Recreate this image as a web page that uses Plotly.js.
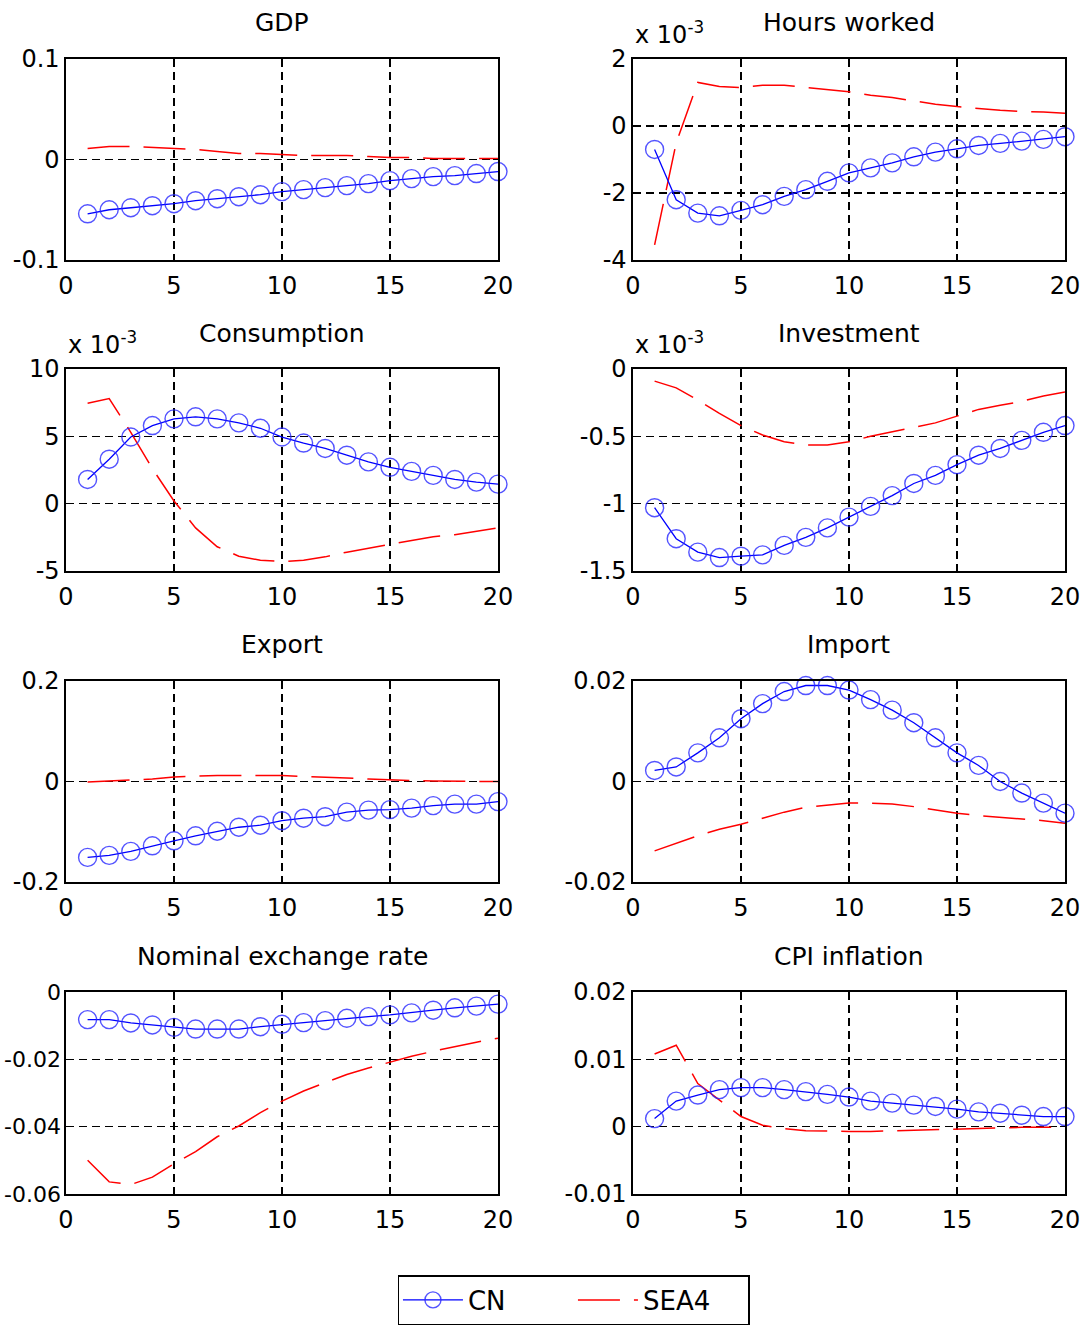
<!DOCTYPE html>
<html>
<head>
<meta charset="utf-8">
<script src="https://cdn.plot.ly/plotly-3.0.1.min.js"></script>
<style>html,body{margin:0;padding:0;background:#fff;}#chart{width:1086px;height:1328px;}</style>
</head>
<body>
<div id="chart"></div>
<script>
const periods = [1,2,3,4,5,6,7,8,9,10,11,12,13,14,15,16,17,18,19,20];
const seriesNames = ["CN", "SEA4"];
const panelTitles = ["GDP","Hours worked","Consumption","Investment","Export","Import","Nominal exchange rate","CPI inflation"];
const scaleNotes = ["", "x 10<sup>-3</sup>", "x 10<sup>-3</sup>", "x 10<sup>-3</sup>", "", "", "", ""];

const gdpCN   = [-0.054,-0.050,-0.048,-0.046,-0.044,-0.041,-0.039,-0.037,-0.035,-0.032,-0.030,-0.028,-0.026,-0.024,-0.021,-0.019,-0.017,-0.016,-0.014,-0.012];
const gdpSEA4 = [0.011,0.013,0.013,0.012,0.011,0.010,0.008,0.006,0.006,0.005,0.004,0.004,0.004,0.003,0.002,0.002,0.001,0.001,0.001,0.001];

const hoursCN   = [-0.7,-2.2,-2.6,-2.68,-2.52,-2.35,-2.1,-1.9,-1.65,-1.4,-1.25,-1.1,-0.92,-0.78,-0.68,-0.58,-0.52,-0.45,-0.4,-0.32];
const hoursSEA4 = [-3.55,-0.5,1.3,1.18,1.15,1.22,1.22,1.15,1.08,1.02,0.92,0.85,0.75,0.65,0.58,0.52,0.47,0.43,0.42,0.38];

const consCN   = [1.8,3.3,4.95,5.8,6.3,6.45,6.3,6.0,5.6,4.95,4.5,4.1,3.6,3.1,2.7,2.4,2.1,1.8,1.6,1.45];
const consSEA4 = [7.45,7.8,5.3,2.6,0.2,-1.8,-3.2,-3.9,-4.2,-4.3,-4.2,-3.95,-3.6,-3.3,-3.05,-2.7,-2.45,-2.3,-2.05,-1.8];

const invCN   = [-1.03,-1.26,-1.36,-1.40,-1.39,-1.38,-1.31,-1.25,-1.18,-1.10,-1.02,-0.94,-0.85,-0.79,-0.71,-0.64,-0.59,-0.53,-0.47,-0.42];
const invSEA4 = [-0.09,-0.14,-0.23,-0.33,-0.42,-0.49,-0.54,-0.565,-0.565,-0.54,-0.50,-0.465,-0.43,-0.40,-0.35,-0.30,-0.27,-0.24,-0.20,-0.17];

const expCN   = [-0.151,-0.147,-0.139,-0.128,-0.118,-0.108,-0.099,-0.091,-0.087,-0.078,-0.073,-0.070,-0.061,-0.057,-0.056,-0.053,-0.048,-0.045,-0.045,-0.040];
const expSEA4 = [-0.001,0.001,0.002,0.005,0.009,0.011,0.012,0.012,0.012,0.012,0.010,0.009,0.007,0.005,0.003,0.002,0.001,0.000,0.000,0.000];

const impCN   = [0.0022,0.0029,0.0057,0.0087,0.0125,0.0155,0.0179,0.0191,0.0191,0.0182,0.0163,0.0142,0.0117,0.0087,0.0057,0.0032,0.0000,-0.0023,-0.0043,-0.0063];
const impSEA4 = [-0.0138,-0.0123,-0.0108,-0.0095,-0.0085,-0.0073,-0.0061,-0.0051,-0.0047,-0.0043,-0.0043,-0.0045,-0.0050,-0.0057,-0.0063,-0.0068,-0.0071,-0.0075,-0.0078,-0.0083];

const nerCN   = [-0.0082,-0.0082,-0.0092,-0.0098,-0.0105,-0.0110,-0.0110,-0.0110,-0.0103,-0.0096,-0.0091,-0.0085,-0.0078,-0.0073,-0.0068,-0.0062,-0.0054,-0.0047,-0.0042,-0.0036];
const nerSEA4 = [-0.050,-0.0564,-0.0572,-0.055,-0.051,-0.0474,-0.043,-0.0398,-0.0358,-0.0324,-0.0294,-0.027,-0.0245,-0.0226,-0.0208,-0.0191,-0.0176,-0.0162,-0.0149,-0.0137];

const cpiCN   = [0.0012,0.0038,0.0047,0.0055,0.0058,0.0058,0.0055,0.0052,0.0048,0.0044,0.0038,0.0035,0.0032,0.0030,0.0026,0.0022,0.0020,0.0017,0.0015,0.0015];
const cpiSEA4 = [0.0108,0.0121,0.0064,0.0039,0.0015,0.0002,-0.0003,-0.0006,-0.0007,-0.0007,-0.0007,-0.0006,-0.0005,-0.0004,-0.0003,-0.0002,-0.0001,-0.0001,-0.0001,-0.0001];

const xTickVals = [0,5,10,15,20];
const xTickText = ["0","5","10","15","20"];

const yTickVals = [
  [-0.1,0,0.1],
  [-4,-2,0,2],
  [-5,0,5,10],
  [-1.5,-1,-0.5,0],
  [-0.2,0,0.2],
  [-0.02,0,0.02],
  [-0.06,-0.04,-0.02,0],
  [-0.01,0,0.01,0.02]
];
const yTickText = [
  ["-0.1","0","0.1"],
  ["-4","-2","0","2"],
  ["-5","0","5","10"],
  ["-1.5","-1","-0.5","0"],
  ["-0.2","0","0.2"],
  ["-0.02","0","0.02"],
  ["-0.06","-0.04","-0.02","0"],
  ["-0.01","0","0.01","0.02"]
];

const cnSeries   = [gdpCN, hoursCN, consCN, invCN, expCN, impCN, nerCN, cpiCN];
const seaSeries  = [gdpSEA4, hoursSEA4, consSEA4, invSEA4, expSEA4, impSEA4, nerSEA4, cpiSEA4];

const FONT = "DejaVu Sans, Liberation Sans, Arial, sans-serif";
const W = 1086, H = 1328;
const colX = [[66,498],[633,1065]];
const rowY = [[59,260],[369,571],[681,882],[992,1194]];

const traces = [];
const layout = {
  width: W, height: H,
  margin: {l:0, r:0, t:0, b:0},
  paper_bgcolor: "#fff", plot_bgcolor: "#fff",
  font: {family: FONT, size: 24, color: "#000"},
  showlegend: true,
  legend: {
    orientation: "h", x: 0.5285, y: 1 - 1300/H, xanchor: "center", yanchor: "middle",
    bordercolor: "#000", borderwidth: 1.5, bgcolor: "#fff",
    font: {family: FONT, size: 26, color: "#000"},
    entrywidth: 100, entrywidthmode: "pixels", itemwidth: 60
  },
  annotations: []
};

for (let i = 0; i < 8; i++) {
  const c = i % 2, r = Math.floor(i / 2);
  const n = i + 1;
  const xa = n === 1 ? "x" : "x" + n;
  const ya = n === 1 ? "y" : "y" + n;
  const xKey = n === 1 ? "xaxis" : "xaxis" + n;
  const yKey = n === 1 ? "yaxis" : "yaxis" + n;
  const tv = yTickVals[i];
  const common = {
    showline: true, linecolor: "#000", linewidth: 1.6, mirror: "ticks",
    ticks: "inside", ticklen: 5, tickcolor: "#000", tickwidth: 1,
    showgrid: true, gridcolor: "#000", gridwidth: 1.3, griddash: "8px,5px",
    zeroline: false, fixedrange: true,
    tickfont: {family: FONT, size: 24, color: "#000"}
  };
  layout[xKey] = Object.assign({}, common, {
    domain: [colX[c][0]/W, colX[c][1]/W], anchor: ya,
    range: [0, 20], tickmode: "array", tickvals: xTickVals, ticktext: xTickText,
    ticklabelstandoff: 4
  });
  layout[yKey] = Object.assign({}, common, {
    domain: [1 - rowY[r][1]/H, 1 - rowY[r][0]/H], anchor: xa,
    range: [tv[0], tv[tv.length-1]], tickmode: "array", tickvals: tv, ticktext: yTickText[i],
    tickfont: {family: FONT, size: (i === 6 ? 22 : 24), color: "#000"},
    ticklabelstandoff: (i === 6 ? -1 : 0)
  });

  traces.push({
    x: periods, y: seaSeries[i], xaxis: xa, yaxis: ya, type: "scatter", mode: "lines",
    name: seriesNames[1], legendgroup: "sea", showlegend: i === 0, legendrank: 2,
    line: {color: "#ff0000", width: 1.5, dash: "42px,14px"}, cliponaxis: false, hoverinfo: "skip"
  });
  traces.push({
    x: periods, y: cnSeries[i], xaxis: xa, yaxis: ya, type: "scatter", mode: "lines+markers",
    name: seriesNames[0], legendgroup: "cn", showlegend: i === 0, legendrank: 1,
    line: {color: "#0000ff", width: 1.3},
    marker: {symbol: "circle-open", size: 18, color: "rgba(40,40,255,0.8)", line: {width: 1.4, color: "rgba(40,40,255,0.8)"}},
    cliponaxis: false, hoverinfo: "skip"
  });

  layout.annotations.push({
    text: panelTitles[i], xref: "paper", yref: "paper",
    x: (colX[c][0] + colX[c][1]) / 2 / W, y: 1 - (rowY[r][0] - 36) / H,
    xanchor: "center", yanchor: "middle", showarrow: false,
    font: {family: FONT, size: 25, color: "#000"}
  });
  if (scaleNotes[i]) {
    layout.annotations.push({
      text: scaleNotes[i], xref: "paper", yref: "paper",
      x: colX[c][0] / W, y: 1 - (rowY[r][0] - 8) / H,
      xanchor: "left", yanchor: "bottom", showarrow: false,
      font: {family: FONT, size: 24, color: "#000"}
    });
  }
}

Plotly.newPlot("chart", traces, layout, {staticPlot: true, displayModeBar: false});
</script>
</body>
</html>
